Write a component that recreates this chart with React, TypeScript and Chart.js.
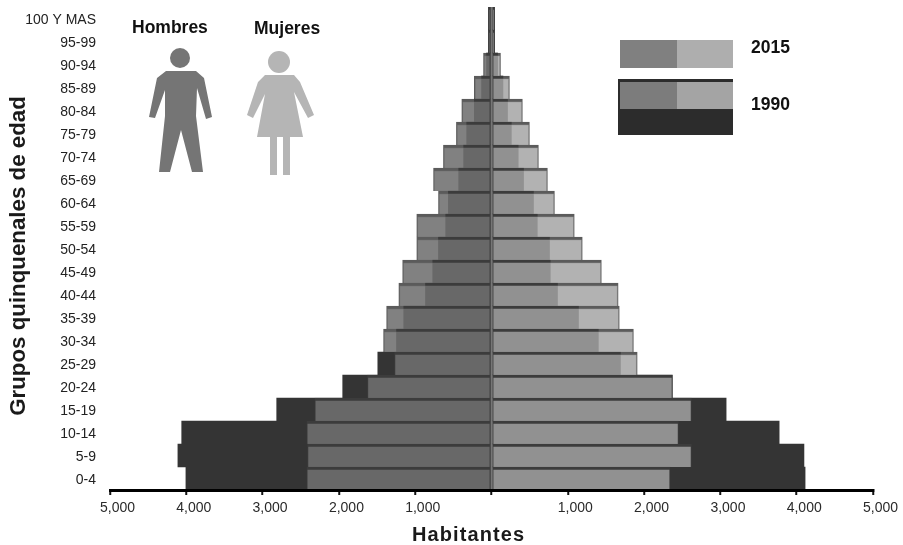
import React, { useEffect, useRef } from "react";
import { Chart, registerables } from "chart.js";

Chart.register(...registerables);

const ageGroups = ["100 Y MAS", "95-99", "90-94", "85-89", "80-84", "75-79", "70-74", "65-69", "60-64", "55-59", "50-54", "45-49", "40-44", "35-39", "30-34", "25-29", "20-24", "15-19", "10-14", "5-9", "0-4"];
const men2015 = [40, 40, 105, 225, 390, 460, 630, 760, 695, 980, 980, 1165, 1215, 1375, 1415, 1270, 1625, 2315, 2420, 2410, 2420];
const women2015 = [40, 40, 118, 235, 405, 497, 615, 733, 825, 1085, 1190, 1440, 1660, 1675, 1860, 1910, 2370, 2620, 2450, 2620, 2340];
const men1990 = [40, 40, 65, 130, 225, 325, 365, 430, 565, 600, 695, 770, 865, 1150, 1245, 1490, 1950, 2815, 4060, 4110, 4005];
const women1990 = [40, 40, 80, 150, 210, 260, 350, 420, 550, 600, 760, 770, 865, 1140, 1400, 1690, 2370, 3075, 3770, 4095, 4110];

const DARK = "#343434";
const MALE = "rgba(112,112,112,0.88)";
const FEMALE = "rgba(163,163,163,0.84)";
const EDGE = "rgba(62,62,62,0.85)";
const MAN = "#757575";
const WOMAN = "#b5b5b5";

const poly = (ctx: CanvasRenderingContext2D, pts: number[][], color: string) => {
  ctx.beginPath();
  pts.forEach(([x, y], i) => (i ? ctx.lineTo(x, y) : ctx.moveTo(x, y)));
  ctx.closePath();
  ctx.fillStyle = color;
  ctx.fill();
};
const disc = (ctx: CanvasRenderingContext2D, x: number, y: number, r: number, color: string) => {
  ctx.beginPath();
  ctx.arc(x, y, r, 0, Math.PI * 2);
  ctx.fillStyle = color;
  ctx.fill();
};

const decorations = {
  id: "decorations",
  afterDraw(chart: any) {
    const ctx: CanvasRenderingContext2D = chart.ctx;
    ctx.save();
    ctx.textBaseline = "middle";
    ctx.textAlign = "left";
    ctx.fillStyle = "#111";
    ctx.font = "bold 17.5px 'Liberation Sans'";
    ctx.fillText("Hombres", 132, 28);
    ctx.fillText("Mujeres", 254, 29);
    ctx.fillText("2015", 751, 48);
    ctx.fillText("1990", 751, 105);
    ctx.font = "bold 20px 'Liberation Sans'";
    ctx.fillStyle = "#1a1a1a";
    (ctx as any).letterSpacing = "1.1px";
    ctx.fillText("Habitantes", 412, 535);
    (ctx as any).letterSpacing = "0px";
    ctx.save();
    ctx.translate(19, 256);
    ctx.rotate(-Math.PI / 2);
    ctx.textAlign = "center";
    ctx.font = "bold 22.3px 'Liberation Sans'";
    ctx.fillText("Grupos quinquenales de edad", 0, 0);
    ctx.restore();

    // man
    disc(ctx, 180, 58, 10, MAN);
    poly(ctx, [[166, 71], [196, 71], [204, 78], [212, 117], [206, 119], [197, 88], [196, 116], [203, 172], [192, 172], [181, 130], [170, 172], [159, 172], [165, 116], [165, 90], [155, 118], [149, 117], [157, 78]], MAN);
    // woman
    disc(ctx, 279, 62, 11, WOMAN);
    poly(ctx, [[265, 75], [294, 75], [300, 82], [314, 115], [308, 118], [294, 92], [303, 137], [290, 137], [290, 175], [283, 175], [283, 137], [277, 137], [277, 175], [270, 175], [270, 137], [257, 137], [265, 94], [253, 118], [247, 115], [258, 82]], WOMAN);

    // legend swatches
    ctx.fillStyle = "#808080";
    ctx.fillRect(620, 40, 57, 28);
    ctx.fillStyle = "#aeaeae";
    ctx.fillRect(677, 40, 56, 28);
    ctx.fillStyle = "#2c2c2c";
    ctx.fillRect(618, 79, 115, 56);
    ctx.fillStyle = "#7c7c7c";
    ctx.fillRect(620, 82, 57, 27);
    ctx.fillStyle = "#a4a4a4";
    ctx.fillRect(677, 82, 56, 27);
    ctx.restore();
  },
};

export default function App() {
  const ref = useRef<HTMLCanvasElement>(null);
  useEffect(() => {
    document.body.style.margin = "0";
    const bar = { grouped: false, barPercentage: 1, categoryPercentage: 1, borderSkipped: false, borderColor: EDGE };
    const frontEdge = { top: 3, bottom: 0, left: 1, right: 1 };
    const chart = new Chart(ref.current!, {
      type: "bar",
      data: {
        labels: ageGroups,
        datasets: [
          { ...bar, label: "Hombres 2015", data: men2015.map((v) => -v), backgroundColor: MALE, borderWidth: frontEdge, order: 1 },
          { ...bar, label: "Mujeres 2015", data: women2015, backgroundColor: FEMALE, borderWidth: frontEdge, order: 1 },
          { ...bar, label: "Hombres 1990", data: men1990.map((v) => -v), backgroundColor: DARK, borderWidth: 0, order: 2 },
          { ...bar, label: "Mujeres 1990", data: women1990, backgroundColor: DARK, borderWidth: 0, order: 2 },
        ],
      } as any,
      options: {
        indexAxis: "y",
        animation: false,
        responsive: false,
        layout: { padding: { top: 7, right: 30, left: 0, bottom: 0 } },
        plugins: { legend: { display: false }, tooltip: { enabled: false } },
        scales: {
          x: {
            type: "linear",
            position: "bottom",
            min: -5000,
            max: 5000,
            afterFit: (s: any) => { s.height = 55; },
            border: { color: "#000", width: 3, z: 1 },
            grid: {
              z: 1,
              color: (c: any) => (c.tick && c.tick.value === 0 ? "rgba(60,60,60,0.7)" : "rgba(0,0,0,0)"),
              lineWidth: 2.5,
              tickColor: "#111",
              tickWidth: 2,
              tickLength: 5,
            },
            ticks: {
              stepSize: 1000,
              autoSkip: false,
              maxRotation: 0,
              padding: 5,
              labelOffset: 7.5,
              color: "#2a2a2a",
              font: { family: "'Liberation Sans'", size: 14 },
              callback: (v: any) => (v === 0 ? "" : Math.abs(v).toLocaleString("en-US")),
            },
          },
          y: {
            type: "category",
            position: "left",
            afterFit: (s: any) => { s.width = 110; s.paddingTop = 0; s.paddingBottom = 0; },
            border: { display: false },
            grid: { display: false, drawTicks: false },
            ticks: {
              autoSkip: false,
              padding: 14,
              labelOffset: 1.5,
              color: "#222",
              font: { family: "'Liberation Sans'", size: 14 },
            },
          },
        },
      } as any,
      plugins: [decorations],
    });
    return () => chart.destroy();
  }, []);
  return (
    <div style={{ width: 903, height: 545 }}>
      <canvas ref={ref} width={903} height={545} style={{ display: "block" }} />
    </div>
  );
}
